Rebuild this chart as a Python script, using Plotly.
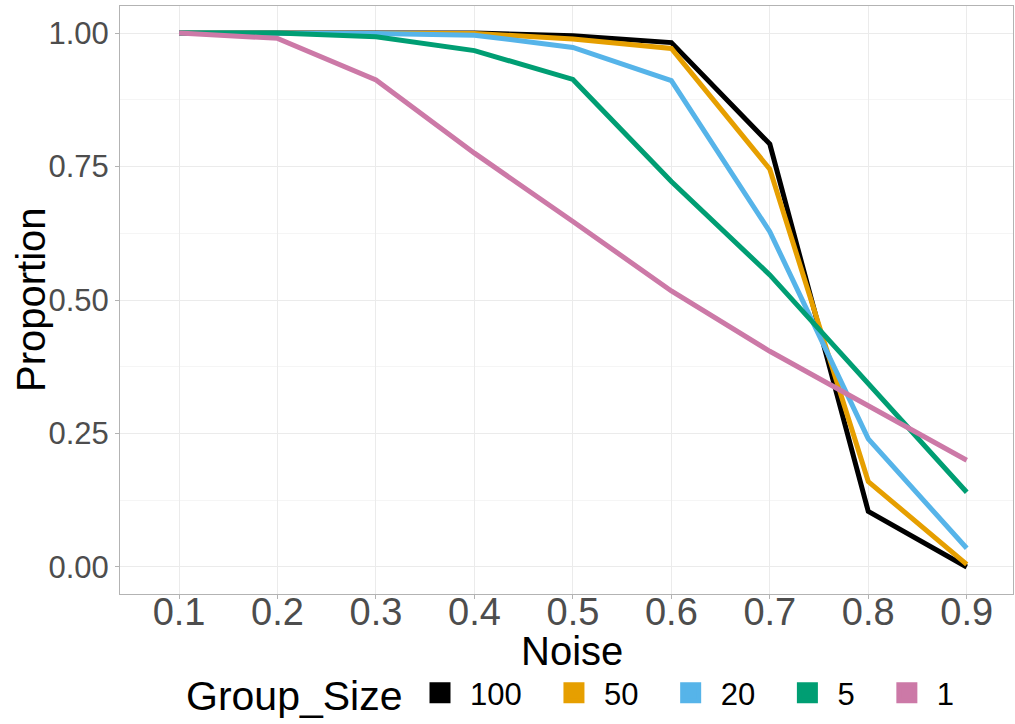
import plotly.graph_objects as go

noise = [0.1, 0.2, 0.3, 0.4, 0.5, 0.6, 0.7, 0.8, 0.9]
noise_labels = ["0.1", "0.2", "0.3", "0.4", "0.5", "0.6", "0.7", "0.8", "0.9"]

group_names = ["100", "50", "20", "5", "1"]
prop_100 = [1.000, 1.000, 1.000, 1.000, 0.995, 0.982, 0.792, 0.104, 0.000]
prop_50 = [1.000, 1.000, 1.000, 0.999, 0.989, 0.971, 0.745, 0.160, 0.005]
prop_20 = [1.000, 1.000, 0.999, 0.996, 0.973, 0.911, 0.628, 0.240, 0.035]
prop_5 = [1.000, 1.000, 0.993, 0.967, 0.913, 0.722, 0.547, 0.345, 0.140]
prop_1 = [1.000, 0.990, 0.912, 0.775, 0.647, 0.517, 0.404, 0.303, 0.200]
series = [prop_100, prop_50, prop_20, prop_5, prop_1]
colors = ["#000000", "#E69F00", "#56B4E9", "#009E73", "#CC79A7"]

FONT = "Liberation Sans, Arial, Helvetica, sans-serif"
PAD = "\u00a0\u00a0"

fig = go.Figure()
for name, vals, col in zip(group_names, series, colors):
    fig.add_trace(go.Scatter(
        x=noise, y=vals, mode="lines", name=name,
        line=dict(color=col, width=5), showlegend=False,
    ))
# legend keys as filled squares
for name, col in zip(group_names, colors):
    fig.add_trace(go.Scatter(
        x=[None], y=[None], mode="markers", name=name + PAD,
        marker=dict(symbol="square", size=16, color=col,
                    line=dict(color=col, width=5)),
        showlegend=True,
    ))

grid_major = "#EBEBEB"
grid_minor = "#F5F5F5"
axis_line = "#B3B3B3"

fig.update_layout(
    width=1015, height=724,
    margin=dict(l=120, r=2, t=6, b=130, autoexpand=False),
    paper_bgcolor="white", plot_bgcolor="white",
    font=dict(family=FONT, color="black"),
    legend=dict(
        orientation="h",
        xref="container", yref="container",
        x=410 / 1015, xanchor="left",
        y=1 - 693 / 724, yanchor="middle",
        font=dict(size=31, family=FONT, color="black"),
        itemwidth=50,
        tracegroupgap=0,
    ),
    xaxis=dict(
        range=[0.040, 0.947],
        tickmode="array", tickvals=noise, ticktext=noise_labels,
        tickfont=dict(size=38, family=FONT, color="#4D4D4D"),
        ticks="outside", ticklen=4, tickcolor=axis_line, tickwidth=1,
        ticklabelstandoff=-20,
        showgrid=True, gridcolor=grid_major, gridwidth=1,
        showline=True, linecolor=axis_line, linewidth=1, mirror=True,
        zeroline=False, automargin=False,
    ),
    yaxis=dict(
        range=[-0.0506, 1.0506],
        tickmode="array", tickvals=[0, 0.25, 0.5, 0.75, 1.0],
        ticktext=["0.00", "0.25", "0.50", "0.75", "1.00"],
        tickfont=dict(size=31, family=FONT, color="#4D4D4D"),
        ticks="outside", ticklen=4, tickcolor=axis_line, tickwidth=1,
        showgrid=True, gridcolor=grid_major, gridwidth=1,
        minor=dict(tickmode="array", tickvals=[0.125, 0.375, 0.625, 0.875],
                   showgrid=True, gridcolor=grid_minor, gridwidth=1, ticks=""),
        showline=True, linecolor=axis_line, linewidth=1, mirror=True,
        zeroline=False, automargin=False,
    ),
    annotations=[
        dict(text="Noise", xref="paper", yref="paper",
             x=(572 - 120) / 893, y=(594 - 651) / 588,
             xanchor="center", yanchor="middle", showarrow=False,
             font=dict(size=40, family=FONT, color="black")),
        dict(text="Proportion", xref="paper", yref="paper",
             x=(31 - 120) / 893, y=0.5, textangle=-90,
             xanchor="center", yanchor="middle", showarrow=False,
             font=dict(size=40, family=FONT, color="black")),
        dict(text="Group_Size", xref="paper", yref="paper",
             x=(184 - 120) / 893, y=(594 - 696) / 588,
             xanchor="left", yanchor="middle", showarrow=False,
             font=dict(size=41, family=FONT, color="black")),
    ],
)

fig.write_html("out.html", config={"displayModeBar": False},
               post_script="document.body.style.margin='0';")
